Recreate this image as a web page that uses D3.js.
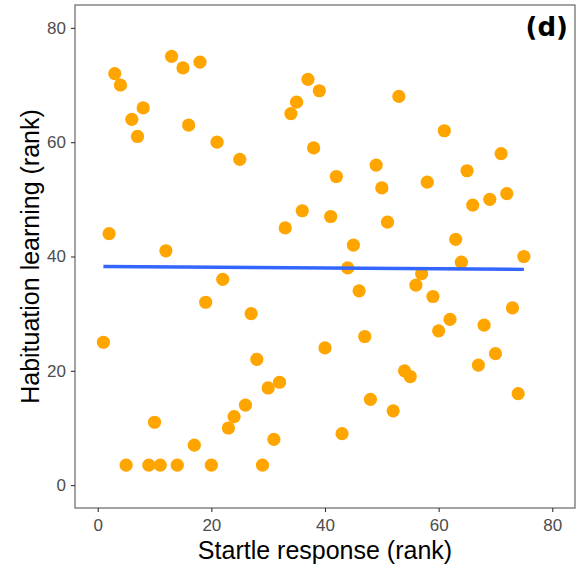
<!DOCTYPE html>
<html>
<head>
<meta charset="utf-8">
<script src="https://cdn.jsdelivr.net/npm/d3@7"></script>
<style>
  body { margin: 0; background: #fff; }
  svg { display: block; font-family: "Liberation Sans", Arial, sans-serif; }
</style>
</head>
<body>
<svg id="chart" width="580" height="573"></svg>
<script>
// Startle response rank (x) vs habituation learning rank (y)
const startleRank = [
  1, 2, 3, 4, 5, 6, 7, 8, 9, 10, 11, 12, 13, 14, 15, 16, 17, 18, 19, 20,
  21, 22, 23, 24, 25, 26, 27, 28, 29, 30, 31, 32, 33, 34, 35, 36, 37, 38, 39, 40,
  41, 42, 43, 44, 45, 46, 47, 48, 49, 50, 51, 52, 53, 54, 55, 56, 57, 58, 59, 60,
  61, 62, 63, 64, 65, 66, 67, 68, 69, 70, 71, 72, 73, 74, 75
];
const habituationRank = [
  25, 44, 72, 70, 3.5, 64, 61, 66, 3.5, 11, 3.5, 41, 75, 3.5, 73, 63, 7, 74, 32, 3.5,
  60, 36, 10, 12, 57, 14, 30, 22, 3.5, 17, 8, 18, 45, 65, 67, 48, 71, 59, 69, 24,
  47, 54, 9, 38, 42, 34, 26, 15, 56, 52, 46, 13, 68, 20, 19, 35, 37, 53, 33, 27,
  62, 29, 43, 39, 55, 49, 21, 28, 50, 23, 58, 51, 31, 16, 40
];
const tickValues = [0, 20, 40, 60, 80];
const panelLabel = "(d)";

const svg = d3.select("#chart");

// panel bounds
const panelLeft = 75, panelRight = 575, panelTop = 5, panelBottom = 508;

const x = d3.scaleLinear().domain([-4, 84]).range([panelLeft, panelRight]);
const y = d3.scaleLinear().domain([-4, 84]).range([panelBottom, panelTop]);

// linear fit (lm) over the points
const n = startleRank.length;
const mx = d3.mean(startleRank), my = d3.mean(habituationRank);
let sxy = 0, sxx = 0;
for (let i = 0; i < n; i++) {
  sxy += (startleRank[i] - mx) * (habituationRank[i] - my);
  sxx += (startleRank[i] - mx) ** 2;
}
const slope = sxy / sxx;
const intercept = my - slope * mx;
const fitX = d3.extent(startleRank);

// points
svg.append("g")
  .selectAll("circle")
  .data(startleRank.map((d, i) => [d, habituationRank[i]]))
  .enter().append("circle")
  .attr("cx", d => x(d[0]))
  .attr("cy", d => y(d[1]))
  .attr("r", 6.6)
  .attr("fill", "#FFA500");

// fit line
svg.append("line")
  .attr("x1", x(fitX[0]))
  .attr("y1", y(intercept + slope * fitX[0]))
  .attr("x2", x(fitX[1]))
  .attr("y2", y(intercept + slope * fitX[1]))
  .attr("stroke", "#3366FF")
  .attr("stroke-width", 3.4);

// panel border
svg.append("rect")
  .attr("x", panelLeft).attr("y", panelTop)
  .attr("width", panelRight - panelLeft).attr("height", panelBottom - panelTop)
  .attr("fill", "none")
  .attr("stroke", "#666")
  .attr("stroke-width", 1.2);

// axes
const xAxis = svg.append("g")
  .attr("transform", `translate(0,${panelBottom})`)
  .call(d3.axisBottom(x).tickValues(tickValues).tickSize(4).tickPadding(7));
const yAxis = svg.append("g")
  .attr("transform", `translate(${panelLeft},0)`)
  .call(d3.axisLeft(y).tickValues(tickValues).tickSize(4).tickPadding(5));

[xAxis, yAxis].forEach(ax => {
  ax.select(".domain").remove();
  ax.selectAll(".tick line").attr("stroke", "#333").attr("stroke-width", 1.1);
  ax.selectAll(".tick text")
    .attr("fill", "#4D4D4D")
    .style("font-size", "17px")
    .style("font-family", "'Liberation Sans', Arial, sans-serif");
});

// axis titles
svg.append("text")
  .attr("x", (panelLeft + panelRight) / 2)
  .attr("y", 559)
  .attr("text-anchor", "middle")
  .style("font-size", "25px")
  .text("Startle response (rank)");

svg.append("text")
  .attr("transform", `translate(39,${(panelTop + panelBottom) / 2}) rotate(-90)`)
  .attr("text-anchor", "middle")
  .style("font-size", "25px")
  .text("Habituation learning (rank)");

// panel tag
svg.append("text")
  .attr("x", 568)
  .attr("y", 36)
  .attr("text-anchor", "end")
  .style("font-family", "'DejaVu Sans', sans-serif")
  .style("font-weight", "bold")
  .style("font-size", "26px")
  .text(panelLabel);
</script>
</body>
</html>
